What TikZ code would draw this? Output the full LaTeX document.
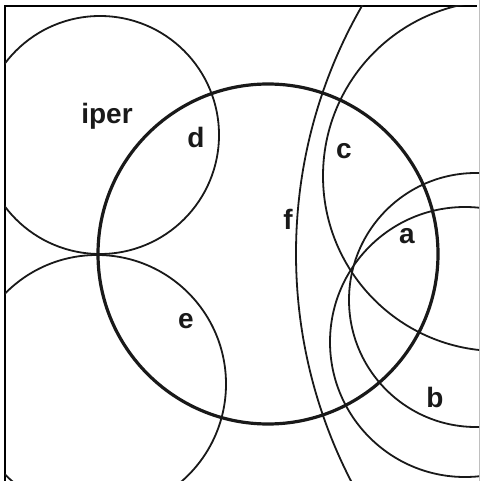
\documentclass[tikz,border=0pt]{standalone}
\usepackage{fontspec}
\setmainfont{Liberation Sans}
\usepackage{tikz}
\usetikzlibrary{positioning}

\begin{document}
\begin{tikzpicture}[x=1pt, y=-1pt,
    set/.style={draw=black!90, line width=1.8pt},
    mainset/.style={draw=black!90, line width=3.2pt},
    lbl/.style={anchor=base, inner sep=0pt, font=\bfseries\fontsize{28}{30}\selectfont, text=black!90}]

    \useasboundingbox (0,0) rectangle (481,481);

    % frame
    \draw[line width=1.2pt] (5,481) -- (5,6) -- (477,6);
    \draw[black!25, line width=0.8pt] (479,0) -- (479,481);

    \begin{scope}
        \clip (5,6) rectangle (479,481);
        \draw[mainset] (268,254) circle[radius=170];
        \draw[set] (100,135) circle[radius=119];
        \draw[set] (97,384) circle[radius=129];
        \draw[set] (498,176) circle[radius=175];
        \draw[set] (476,300) circle[radius=127];
        \draw[set] (465,342) circle[radius=135];
        \draw[set] (793,253.5) circle[radius=497];
    \end{scope}

    \node (iper) [lbl] at (107,124) {iper};
    \node (d) [lbl] at (196,147) {d};
    \node (c) [lbl] at (344,158) {c};
    \node (f) [lbl] at (288,229) {f};
    \node (a) [lbl] at (407,243) {a};
    \node (e) [lbl] at (186,328) {e};
    \node (b) [lbl] at (435,407) {b};

\end{tikzpicture}
\end{document}
